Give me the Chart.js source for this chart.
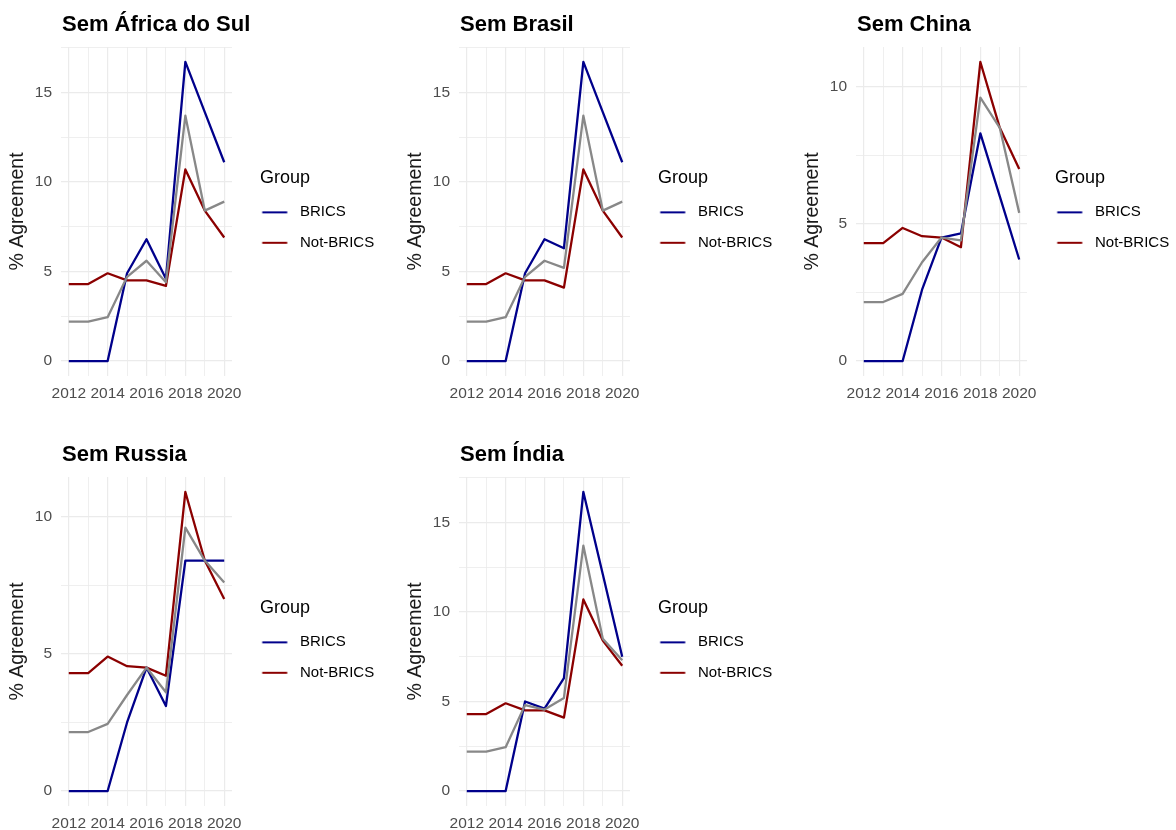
<!DOCTYPE html>
<html>
<head>
<meta charset="utf-8">
<script src="https://cdn.jsdelivr.net/npm/chart.js@4.4.1/dist/chart.umd.min.js"></script>
<style>
  html, body { margin: 0; padding: 0; background: #ffffff; }
  body { width: 1176px; height: 830px; position: relative; overflow: hidden; }
  .panel { position: absolute; }
  .panel canvas { display: block; }
</style>
</head>
<body>
<div class="panel" style="left:0px;top:0px"><canvas id="c0"></canvas></div>
<div class="panel" style="left:398px;top:0px"><canvas id="c1"></canvas></div>
<div class="panel" style="left:795px;top:0px"><canvas id="c2"></canvas></div>
<div class="panel" style="left:0px;top:430px"><canvas id="c3"></canvas></div>
<div class="panel" style="left:398px;top:430px"><canvas id="c4"></canvas></div>
<script>
// ---------- data ----------
const years = [2012, 2013, 2014, 2015, 2016, 2017, 2018, 2019, 2020];
const xTickLabels = ['2012', '2014', '2016', '2018', '2020'];
const panelTitles = ['Sem África do Sul', 'Sem Brasil', 'Sem China', 'Sem Russia', 'Sem Índia'];
const groupNames = ['BRICS', 'Not-BRICS'];
const legendTitle = 'Group';
const yAxisTitle = '% Agreement';

const semAfricaBRICS    = [0, 0, 0, 4.9, 6.8, 4.6, 16.7, 13.9, 11.1];
const semAfricaNotBRICS = [4.3, 4.3, 4.9, 4.5, 4.5, 4.2, 10.7, 8.4, 6.9];
const semAfricaOverall  = [2.2, 2.2, 2.45, 4.7, 5.6, 4.4, 13.7, 8.4, 8.9];

const semBrasilBRICS    = [0, 0, 0, 4.9, 6.8, 6.3, 16.7, 13.9, 11.1];
const semBrasilNotBRICS = [4.3, 4.3, 4.9, 4.5, 4.5, 4.1, 10.7, 8.4, 6.9];
const semBrasilOverall  = [2.2, 2.2, 2.45, 4.7, 5.6, 5.2, 13.7, 8.4, 8.9];

const semChinaBRICS     = [0, 0, 0, 2.6, 4.5, 4.65, 8.3, 6.0, 3.7];
const semChinaNotBRICS  = [4.3, 4.3, 4.85, 4.55, 4.5, 4.15, 10.9, 8.5, 7.0];
const semChinaOverall   = [2.15, 2.15, 2.45, 3.6, 4.5, 4.4, 9.6, 8.5, 5.4];

const semRussiaBRICS    = [0, 0, 0, 2.5, 4.5, 3.1, 8.4, 8.4, 8.4];
const semRussiaNotBRICS = [4.3, 4.3, 4.9, 4.55, 4.5, 4.2, 10.9, 8.4, 7.0];
const semRussiaOverall  = [2.15, 2.15, 2.45, 3.5, 4.5, 3.6, 9.6, 8.4, 7.6];

const semIndiaBRICS     = [0, 0, 0, 5.0, 4.6, 6.3, 16.7, 12.1, 7.5];
const semIndiaNotBRICS  = [4.3, 4.3, 4.9, 4.5, 4.5, 4.1, 10.7, 8.4, 7.0];
const semIndiaOverall   = [2.2, 2.2, 2.45, 4.8, 4.55, 5.2, 13.7, 8.5, 7.3];

const panelSeries = [
  [semAfricaBRICS, semAfricaNotBRICS, semAfricaOverall],
  [semBrasilBRICS, semBrasilNotBRICS, semBrasilOverall],
  [semChinaBRICS, semChinaNotBRICS, semChinaOverall],
  [semRussiaBRICS, semRussiaNotBRICS, semRussiaOverall],
  [semIndiaBRICS, semIndiaNotBRICS, semIndiaOverall]
];

// ---------- styling ----------
const FONT = '"Liberation Sans", Arial, sans-serif';
const groupColors = ['#00008B', '#8B0000'];
const overallColor = '#888888';
const gridColor = '#EBEBEB';
const CANVAS_W = 400, CANVAS_H = 411;
const PLOT_TOP = 47, X_AXIS_H = 35, Y_AXIS_W = 61, GAP_TO_LEGEND = 28, LEGEND_LEFT = 260;
const KEY_W = 32.5, LABEL_SIZE = 15, LINE_W = 2.3;

// legend key images (short horizontal lines)
function makeKey(color) {
  const c = document.createElement('canvas');
  c.width = 33; c.height = 4;
  const g = c.getContext('2d');
  g.strokeStyle = color; g.lineWidth = 2;
  g.beginPath(); g.moveTo(2.5, 2); g.lineTo(27.5, 2); g.stroke();
  return c;
}
const keyImgs = groupColors.map(makeKey);

// legend width -> right padding so the legend starts at LEGEND_LEFT
const mctx = document.createElement('canvas').getContext('2d');
mctx.font = LABEL_SIZE + 'px ' + FONT;
const maxTextW = Math.max(...groupNames.map(n => mctx.measureText(n).width));
const legendW = KEY_W + LABEL_SIZE / 2 + maxTextW + 10;
const padRight = CANVAS_W - LEGEND_LEFT - legendW;

const panelTitlePlugin = {
  id: 'panelTitle',
  afterDraw(chart, args, opts) {
    const { ctx, chartArea } = chart;
    ctx.save();
    ctx.font = 'bold 22px ' + FONT;
    ctx.fillStyle = '#000000';
    ctx.textAlign = 'left';
    ctx.textBaseline = 'middle';
    ctx.fillText(opts.text, chartArea.left + 1, 25);
    ctx.restore();
  }
};

const toXY = arr => arr.map((v, i) => ({ x: years[i], y: v }));

function buildChart(idx) {
  const [brics, notBrics, overall] = panelSeries[idx];
  const all = brics.concat(notBrics, overall);
  const lo = Math.min(...all), hi = Math.max(...all);
  const yPad = (hi - lo) * 0.05;
  const xPad = (years[years.length - 1] - years[0]) * 0.05;

  const canvas = document.getElementById('c' + idx);
  canvas.width = CANVAS_W; canvas.height = CANVAS_H;

  new Chart(canvas, {
    type: 'line',
    data: {
      datasets: [
        { label: 'Overall', data: toXY(overall), borderColor: overallColor, borderWidth: LINE_W, order: 0 },
        { label: groupNames[0], data: toXY(brics), borderColor: groupColors[0], borderWidth: LINE_W, order: 1 },
        { label: groupNames[1], data: toXY(notBrics), borderColor: groupColors[1], borderWidth: LINE_W, order: 2 }
      ]
    },
    options: {
      responsive: false,
      animation: false,
      devicePixelRatio: 1,
      events: [],
      elements: {
        point: { radius: 0 },
        line: { tension: 0, borderJoinStyle: 'round', borderCapStyle: 'butt', fill: false }
      },
      layout: { padding: { top: PLOT_TOP, right: padRight, bottom: 0, left: 0 } },
      scales: {
        x: {
          type: 'linear',
          min: years[0] - xPad,
          max: years[years.length - 1] + xPad,
          afterBuildTicks: s => { s.ticks = years.map(v => ({ value: v })); },
          afterFit: s => { s.height = X_AXIS_H; },
          ticks: {
            autoSkip: false, maxRotation: 0, minRotation: 0, padding: 8,
            color: '#4D4D4D', font: { family: FONT, size: 15.5 },
            callback: v => xTickLabels.includes(String(v)) ? String(v) : ''
          },
          grid: {
            color: gridColor, drawTicks: false,
            lineWidth: c => (c.tick && xTickLabels.includes(String(c.tick.value))) ? 1.2 : 0.8
          },
          border: { display: false }
        },
        y: {
          type: 'linear',
          position: 'left',
          min: lo - yPad,
          max: hi + yPad,
          afterBuildTicks: s => {
            const t = [];
            for (let v = 0; v <= s.max; v += 2.5) t.push({ value: v });
            s.ticks = t;
          },
          afterFit: s => { s.width = Y_AXIS_W; },
          ticks: {
            padding: 9, color: '#4D4D4D', font: { family: FONT, size: 15.5 },
            callback: v => (v % 5 === 0) ? String(v) : ''
          },
          grid: {
            color: gridColor, drawTicks: false,
            lineWidth: c => (c.tick && c.tick.value % 5 === 0) ? 1.2 : 0.8
          },
          border: { display: false },
          title: {
            display: true, text: yAxisTitle, color: '#1A1A1A',
            font: { family: FONT, size: 19.5 }, padding: { top: 6, bottom: 0 }
          }
        },
        gap: {
          type: 'linear', position: 'right', display: true, min: 0, max: 1,
          afterFit: s => { s.width = GAP_TO_LEGEND; },
          ticks: { display: false },
          grid: { display: false, drawTicks: false },
          border: { display: false }
        }
      },
      plugins: {
        tooltip: { enabled: false },
        title: { display: false },
        panelTitle: { text: panelTitles[idx] },
        legend: {
          display: true,
          position: 'right',
          align: 'center',
          fullSize: false,
          maxWidth: 300,
          title: {
            display: true, text: legendTitle, position: 'start', color: '#000000',
            font: { family: FONT, size: 18 }, padding: { top: 12, bottom: 14 }
          },
          labels: {
            usePointStyle: true,
            pointStyleWidth: KEY_W,
            padding: 0,
            color: '#000000',
            font: { family: FONT, size: LABEL_SIZE, lineHeight: 2.03 },
            generateLabels: () => groupNames.map((name, k) => ({
              text: [name],
              pointStyle: keyImgs[k],
              fillStyle: groupColors[k],
              strokeStyle: groupColors[k],
              fontColor: '#000000',
              lineWidth: 0,
              hidden: false,
              datasetIndex: k + 1
            }))
          }
        }
      }
    },
    plugins: [panelTitlePlugin]
  });
}

for (let i = 0; i < panelSeries.length; i++) buildChart(i);
</script>
</body>
</html>
